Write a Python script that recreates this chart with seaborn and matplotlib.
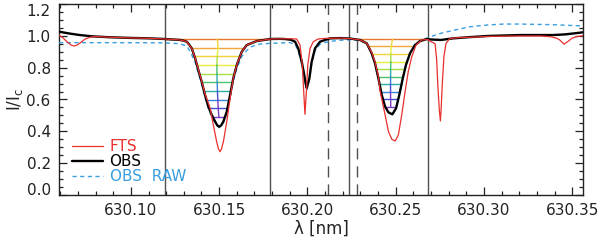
import numpy as np
import pandas as pd
import matplotlib
matplotlib.use("Agg")
import matplotlib.pyplot as plt
from matplotlib.ticker import MultipleLocator, FormatStrFormatter
from matplotlib.lines import Line2D
import seaborn as sns

# ---------------- data ----------------
obs_wl = [630.0593, 630.0655, 630.0711, 630.0779, 630.0882, 630.0995, 630.1109, 630.1194,
          630.1222, 630.1279, 630.1296, 630.1317, 630.1330, 630.1345, 630.1364, 630.1382,
          630.1401, 630.1420, 630.1439, 630.1458, 630.1477, 630.1489, 630.1500, 630.1511,
          630.1524, 630.1543, 630.1562, 630.1580, 630.1600, 630.1628, 630.1656, 630.1713,
          630.1788, 630.1845, 630.1873, 630.1907, 630.1930, 630.1948, 630.1968, 630.1982,
          630.1990, 630.1996, 630.2003, 630.2011, 630.2024, 630.2043, 630.2071, 630.2100,
          630.2128, 630.2185, 630.2241, 630.2298, 630.2336, 630.2364, 630.2383, 630.2402,
          630.2421, 630.2440, 630.2459, 630.2481, 630.2502, 630.2520, 630.2540, 630.2558,
          630.2581, 630.2609, 630.2638, 630.2676, 630.2700, 630.2756, 630.2824, 630.2921,
          630.3018, 630.3108, 630.3204, 630.3317, 630.3391, 630.3459, 630.3515, 630.3559]
obs_int = [1.026, 1.014, 1.005, 0.997, 0.991, 0.987, 0.984, 0.980,
           0.978, 0.974, 0.970, 0.963, 0.945, 0.921, 0.859, 0.785,
           0.712, 0.628, 0.555, 0.503, 0.462, 0.438, 0.429, 0.437,
           0.462, 0.523, 0.628, 0.733, 0.817, 0.900, 0.942, 0.967,
           0.980, 0.981, 0.980, 0.975, 0.963, 0.921, 0.837, 0.754,
           0.700, 0.672, 0.700, 0.733, 0.837, 0.921, 0.963, 0.974,
           0.984, 0.986, 0.983, 0.974, 0.953, 0.890, 0.827, 0.733,
           0.628, 0.555, 0.519, 0.507, 0.545, 0.628, 0.733, 0.817,
           0.890, 0.942, 0.967, 0.980, 0.977, 0.974, 0.984, 0.992,
           0.999, 1.002, 1.005, 1.005, 1.005, 1.009, 1.016, 1.022]

fts_wl = [630.0593, 630.0617, 630.0640, 630.0662, 630.0679, 630.0696, 630.0719, 630.0741,
          630.0770, 630.0798, 630.0882, 630.0995, 630.1109, 630.1194, 630.1279, 630.1317,
          630.1345, 630.1364, 630.1382, 630.1401, 630.1420, 630.1449, 630.1467, 630.1486,
          630.1496, 630.1505, 630.1513, 630.1524, 630.1543, 630.1562, 630.1580, 630.1600,
          630.1628, 630.1656, 630.1713, 630.1788, 630.1845, 630.1901, 630.1939, 630.1958,
          630.1971, 630.1979, 630.1986, 630.1994, 630.2002, 630.2015, 630.2033, 630.2060,
          630.2100, 630.2185, 630.2241, 630.2298, 630.2336, 630.2364, 630.2383, 630.2402,
          630.2411, 630.2440, 630.2459, 630.2478, 630.2497, 630.2515, 630.2534, 630.2553,
          630.2571, 630.2591, 630.2615, 630.2647, 630.2681, 630.2700, 630.2711, 630.2723,
          630.2732, 630.2739, 630.2747, 630.2753, 630.2757, 630.2764, 630.2773, 630.2785,
          630.2807, 630.2864, 630.2921, 630.3018, 630.3108, 630.3204, 630.3317, 630.3374,
          630.3412, 630.3431, 630.3453, 630.3476, 630.3498, 630.3525, 630.3559]
fts_int = [1.005, 0.986, 0.961, 0.942, 0.936, 0.942, 0.961, 0.980,
           0.992, 0.996, 0.991, 0.987, 0.984, 0.980, 0.974, 0.963,
           0.921, 0.862, 0.790, 0.716, 0.636, 0.545, 0.440, 0.335,
           0.289, 0.272, 0.289, 0.335, 0.460, 0.607, 0.733, 0.817,
           0.900, 0.942, 0.967, 0.980, 0.981, 0.982, 0.980, 0.942,
           0.817, 0.649, 0.507, 0.649, 0.817, 0.921, 0.963, 0.980,
           0.984, 0.986, 0.983, 0.974, 0.953, 0.895, 0.835, 0.745,
           0.655, 0.503, 0.398, 0.350, 0.339, 0.377, 0.503, 0.649,
           0.775, 0.869, 0.942, 0.974, 0.978, 0.963, 0.958, 0.950,
           0.848, 0.680, 0.534, 0.465, 0.534, 0.702, 0.869, 0.953,
           0.984, 0.989, 0.991, 0.996, 0.998, 0.999, 0.999, 0.995,
           0.985, 0.972, 0.948, 0.965, 0.985, 0.995, 1.001]

raw_wl = [630.0593, 630.0882, 630.1194, 630.1279, 630.1317, 630.1330, 630.1345, 630.1355,
          630.1364, 630.1382, 630.1401, 630.1420, 630.1439, 630.1458, 630.1477, 630.1500,
          630.1524, 630.1543, 630.1562, 630.1580, 630.1600, 630.1628, 630.1656, 630.1681,
          630.1713, 630.1732, 630.1788, 630.1845, 630.1901, 630.1930, 630.1948, 630.1968,
          630.1982, 630.1996, 630.2011, 630.2024, 630.2043, 630.2071, 630.2100, 630.2128,
          630.2185, 630.2241, 630.2298, 630.2336, 630.2364, 630.2383, 630.2402, 630.2421,
          630.2440, 630.2459, 630.2481, 630.2502, 630.2520, 630.2540, 630.2558, 630.2581,
          630.2609, 630.2638, 630.2676, 630.2690, 630.2756, 630.2832, 630.2921, 630.3018,
          630.3112, 630.3204, 630.3391, 630.3559]
raw_int = [0.957, 0.957, 0.956, 0.950, 0.935, 0.912, 0.880, 0.850,
           0.835, 0.765, 0.695, 0.614, 0.543, 0.493, 0.453, 0.423,
           0.453, 0.513, 0.615, 0.716, 0.795, 0.870, 0.908, 0.930,
           0.945, 0.948, 0.953, 0.955, 0.957, 0.948, 0.905, 0.822,
           0.742, 0.660, 0.722, 0.826, 0.907, 0.947, 0.958, 0.965,
           0.972, 0.975, 0.970, 0.950, 0.887, 0.824, 0.730, 0.626,
           0.553, 0.517, 0.505, 0.543, 0.627, 0.733, 0.818, 0.892,
           0.946, 0.970, 0.985, 0.992, 1.016, 1.036, 1.057, 1.068,
           1.074, 1.074, 1.070, 1.062]

# bisector intensity levels of the two Fe I lines
line1_levels = [0.980, 0.926, 0.871, 0.817, 0.762, 0.708, 0.653, 0.599, 0.544, 0.490]
line2_levels = [0.980, 0.933, 0.886, 0.838, 0.791, 0.744, 0.697, 0.649, 0.602, 0.555]
line1_window = [630.1192, 630.1788]
line2_window = [630.2283, 630.2681]

solid_lines = [630.1192, 630.1788, 630.2236, 630.2681]
dashed_lines = [630.2115, 630.2283]

xticks = [630.10, 630.15, 630.20, 630.25, 630.30, 630.35]
yticks = [0.0, 0.2, 0.4, 0.6, 0.8, 1.0, 1.2]
series_labels = ["FTS", "OBS", "OBS  RAW"]

# ---------------- styles ----------------
RED = "#e8302e"
BLACK = "#000000"
BLUE = "#3a9ee0"
level_colors = ["#e8782c", "#f2a63c", "#f3d23a", "#e6ee3a", "#a8e040",
                "#4cc46a", "#2cb0a8", "#3484d8", "#3c50d0", "#7a3cc0"]

sns.set_theme(style="ticks")
plt.rcParams["font.family"] = ["DejaVu Sans"]
plt.rcParams["font.size"] = 10.5

fig = plt.figure(figsize=(6.0, 2.43), dpi=100)
ax = fig.add_axes([59 / 600, 1 - 195 / 243, (582.7 - 59) / 600, (195 - 4) / 243])

obs = pd.DataFrame({"wl": obs_wl, "I": obs_int})
fts = pd.DataFrame({"wl": fts_wl, "I": fts_int})
raw = pd.DataFrame({"wl": raw_wl, "I": raw_int})


def bisector(wl, inten, levels, window):
    wl = np.asarray(wl)
    inten = np.asarray(inten)
    sel = (wl >= window[0]) & (wl <= window[1])
    w = wl[sel]
    f = inten[sel]
    imin = int(np.argmin(f))
    out = []
    for lv in levels:
        left = window[0]
        for i in range(imin, 0, -1):
            if f[i - 1] >= lv > f[i]:
                left = w[i - 1] + (lv - f[i - 1]) * (w[i] - w[i - 1]) / (f[i] - f[i - 1])
                break
        right = window[1]
        for i in range(imin, len(f) - 1):
            if f[i + 1] >= lv > f[i]:
                right = w[i] + (lv - f[i]) * (w[i + 1] - w[i]) / (f[i + 1] - f[i])
                break
        if lv >= max(f[0], f[-1]) - 1e-9:
            left, right = window[0], window[1]
        out.append((lv, left, right))
    return out


for levels, window in [(line1_levels, line1_window), (line2_levels, line2_window)]:
    bis = bisector(obs_wl, obs_int, levels, window)
    for (lv, l, r), c in zip(bis, level_colors):
        ax.hlines(lv, l, r, color=c, lw=1.0, zorder=2)
    mids = [(lv, 0.5 * (l + r)) for lv, l, r in bis]
    for k in range(len(mids) - 1):
        ax.plot([mids[k][1], mids[k + 1][1]], [mids[k][0], mids[k + 1][0]],
                color=level_colors[min(k + 2, len(level_colors) - 1)], lw=1.0, zorder=2)

for xv in solid_lines:
    ax.axvline(xv, color="#505050", lw=1.0, zorder=1)
for xv in dashed_lines:
    ax.axvline(xv, color="#505050", lw=1.0, ls=(0, (8, 5)), zorder=1)

sns.lineplot(data=raw, x="wl", y="I", ax=ax, color=BLUE, lw=1.0, sort=False,
             estimator=None, zorder=3, linestyle=(0, (3, 2.5)))
sns.lineplot(data=obs, x="wl", y="I", ax=ax, color=BLACK, lw=1.7, sort=False,
             estimator=None, zorder=4)
sns.lineplot(data=fts, x="wl", y="I", ax=ax, color=RED, lw=0.9, sort=False,
             estimator=None, zorder=5)

ax.set_xlim(630.0593, 630.3559)
ax.set_ylim(0.0, 1.2)
ax.set_xticks(xticks)
ax.set_yticks(yticks)
ax.xaxis.set_major_formatter(FormatStrFormatter("%.2f"))
ax.yaxis.set_major_formatter(FormatStrFormatter("%.1f"))
ax.xaxis.set_minor_locator(MultipleLocator(0.01))
ax.yaxis.set_minor_locator(MultipleLocator(0.05))
ax.tick_params(which="both", direction="in", top=True, right=True, colors="#222222",
               labelcolor="#222222", width=0.9)
ax.tick_params(which="major", length=6, pad=6)
ax.tick_params(which="minor", length=3)
for s in ax.spines.values():
    s.set_color("#222222")
    s.set_linewidth(1.0)

ylabels = ax.get_yticklabels()
ylabels[0].set_verticalalignment("baseline")
ylabels[-1].set_verticalalignment("top")

ax.set_xlabel("λ [nm]", color="#222222", va="center")
ax.set_ylabel("I/I$_\\mathrm{c}$", color="#222222", va="center")
ax.xaxis.set_label_coords(0.502, -0.178)
ax.yaxis.set_label_coords(-0.084, 0.5)

handles = [Line2D([], [], color=RED, lw=0.9),
           Line2D([], [], color=BLACK, lw=1.7),
           Line2D([], [], color=BLUE, lw=1.0, ls=(0, (3, 2.5)))]
leg = ax.legend(handles, series_labels, loc="lower left", frameon=False,
                bbox_to_anchor=(0.025, 0.058), borderaxespad=0, borderpad=0,
                handlelength=2.05, handletextpad=0.4, labelspacing=0.0,
                labelcolor=[RED, BLACK, BLUE])

fig.savefig("out.png", dpi=100)
